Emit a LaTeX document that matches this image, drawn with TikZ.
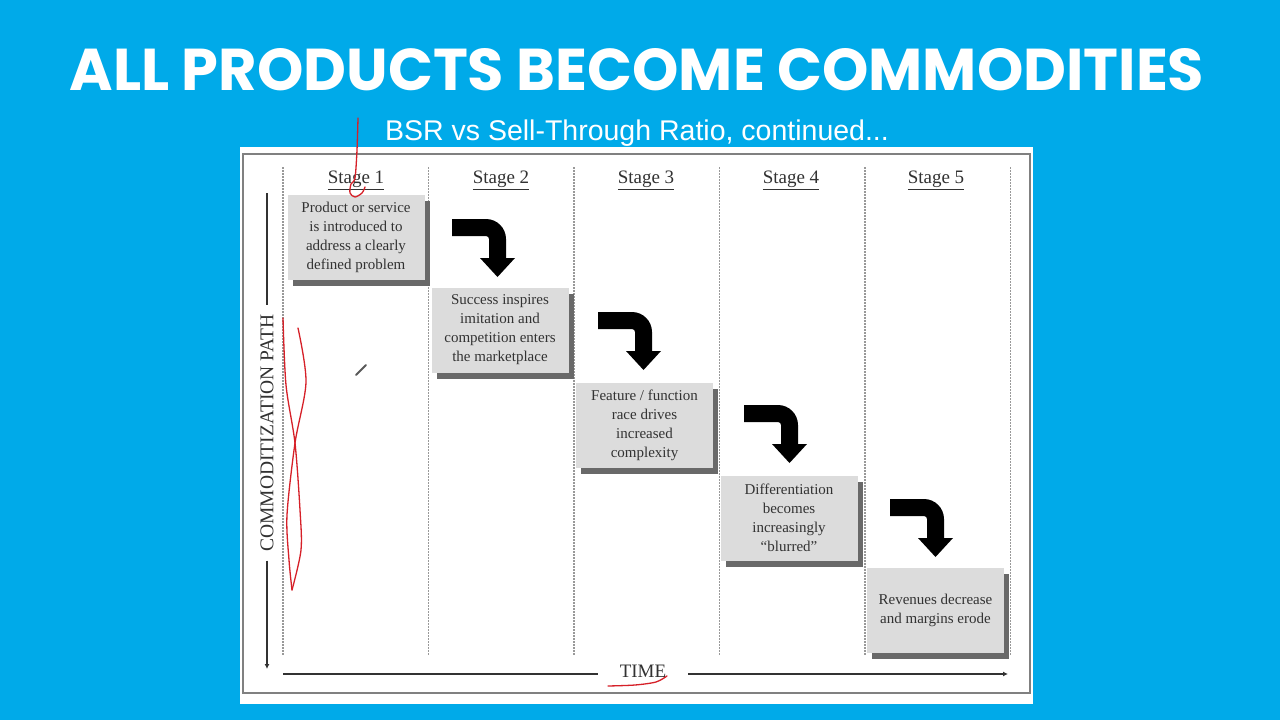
\documentclass[tikz,border=0pt]{standalone}
\usepackage{fontspec}
\setmainfont{Liberation Serif}
\newfontfamily\titlefont{Poppins}
\newfontfamily\subfont{Liberation Sans}
\usetikzlibrary{arrows.meta,shadows}
\definecolor{slideblue}{RGB}{0,170,233}
\definecolor{boxgray}{RGB}{220,220,220}
\definecolor{shadowgray}{RGB}{105,105,105}
\definecolor{inkgray}{RGB}{50,50,50}
\definecolor{penred}{RGB}{214,32,40}
\tikzset{
  stagebox/.style={fill=boxgray, minimum width=137pt, minimum height=85pt,
                   inner sep=0pt, align=center, text=inkgray,
                   font=\fontsize{15}{19}\selectfont,
                   drop shadow={shadow xshift=5pt, shadow yshift=-6pt,
                                fill=shadowgray, opacity=1}},
  stagelabel/.style={text=inkgray, font=\fontsize{19}{22}\selectfont},
  column/.style={gray!80, line width=1.5pt, dash pattern=on 1.5pt off 1.5pt},
  axis/.style={draw=inkgray, line width=1.8pt},
  scribble/.style={penred, line width=1.3pt, line cap=round, line join=round},
  bentarrow/.pic={
    \fill[black] (0,0) -- (34,0) .. controls (45,0) and (54,9) .. (54,20)
      -- (54,39) -- (63,39) -- (45.5,58) -- (28,39) -- (37,39) -- (37,20)
      .. controls (37,18.3) and (35.7,17) .. (34,17) -- (0,17) -- cycle;
  }
}

\begin{document}
\begin{tikzpicture}[x=1pt,y=-1pt]
  \useasboundingbox (0,0) rectangle (1280,720);
  \fill[slideblue] (0,0) rectangle (1280,720);

  % headings
  \node[anchor=base, text=white, font=\titlefont\bfseries\fontsize{59}{66}\selectfont]
    (title) at (637,90) {ALL PRODUCTS BECOME COMMODITIES};
  \node[anchor=base, text=white, font=\subfont\fontsize{28.5}{32}\selectfont]
    (subtitle) at (637,140) {BSR vs Sell-Through Ratio, continued...};

  % panel
  \fill[white] (240,147) rectangle (1033,704);
  \draw[gray, line width=1.8pt] (243,154) rectangle (1030,693);

  \foreach \cx in {283,428.5,574,719.5,865,1010.5}
    \draw[column] (\cx,167) -- (\cx,655);

  % stages
  \node[stagelabel] (lab1) at (356,180) {\underline{Stage 1}};
  \node[stagelabel] (lab2) at (501,180) {\underline{Stage 2}};
  \node[stagelabel] (lab3) at (646,180) {\underline{Stage 3}};
  \node[stagelabel] (lab4) at (791,180) {\underline{Stage 4}};
  \node[stagelabel] (lab5) at (936,180) {\underline{Stage 5}};

  \node[stagebox] (box1) at (356,237.5)
    {Product or service\\is introduced to\\address a clearly\\defined problem};
  \node[stagebox] (box2) at (500,330)
    {Success inspires\\imitation and\\competition enters\\the marketplace};
  \node[stagebox] (box3) at (644.5,425)
    {Feature / function\\race drives\\increased\\complexity};
  \node[stagebox] (box4) at (789,518)
    {Differentiation\\becomes\\increasingly\\``blurred''};
  \node[stagebox] (box5) at (935.5,610)
    {Revenues decrease\\and margins erode};

  \pic at (452,219) {bentarrow};
  \pic at (598,312) {bentarrow};
  \pic at (744,405) {bentarrow};
  \pic at (890,499) {bentarrow};

  % axes
  \node[rotate=90, text=inkgray, inner xsep=9pt, font=\fontsize{19.5}{22}\selectfont]
    (pathlabel) at (267,433) {COMMODITIZATION PATH};
  \coordinate (pathtop) at (267,193);
  \coordinate (pathend) at (267,669);
  \draw[axis] (pathtop) -- (pathlabel.east);
  \draw[axis,-{Latex[length=5pt,width=5pt]}] (pathlabel.west) -- (pathend);

  \node[text=inkgray, inner xsep=22pt, font=\fontsize{19}{22}\selectfont]
    (timelabel) at (643,671) {TIME};
  \coordinate (timestart) at (283,674);
  \coordinate (timeend) at (1008,674);
  \draw[axis] (timestart) -- (timestart -| timelabel.west);
  \draw[axis,-{Latex[length=5pt,width=5pt]}] (timeend -| timelabel.east) -- (timeend);

  % pen marks
  \draw[scribble] plot[smooth] coordinates
    {(358,118) (357,150) (355,178) (351,184) (350,193) (355,197) (362,193) (365,187)};
  \draw[scribble] plot[smooth] coordinates
    {(283,318) (286,385) (295,443) (300,510) (301,550) (292,590)};
  \draw[scribble] plot[smooth] coordinates
    {(298,328) (306,382) (295,443) (287,515) (289,560) (292,590)};
  \draw[scribble] plot[smooth] coordinates
    {(608,686) (635,685) (656,682) (667,676)};
  \draw[gray!70!black, line width=2pt, line cap=round] (356,375) -- (366,365);
\end{tikzpicture}
\end{document}
